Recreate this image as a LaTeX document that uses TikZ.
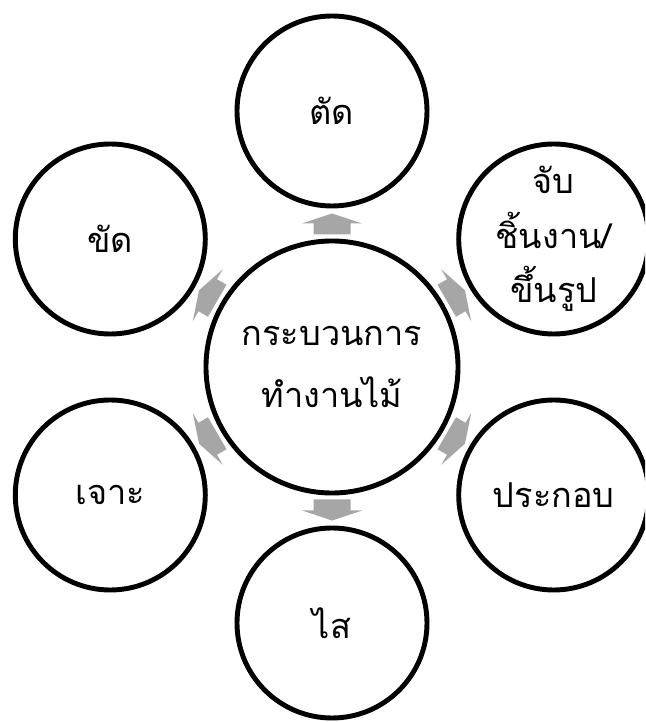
\documentclass[tikz,border=0pt]{standalone}
\usepackage{fontspec}
\newfontfamily\thaifont[Script=Thai]{Loma}

\begin{document}
\begin{tikzpicture}[
        font=\thaifont\fontsize{19.5}{31}\selectfont,
        hub/.style={draw, circle, line width=2.8pt, minimum size=5.04cm,
                   inner sep=0pt, align=center, fill=white,
                   font=\thaifont\fontsize{19.5}{35}\selectfont},
        stage/.style={draw, circle, line width=2.8pt, minimum size=3.8cm,
                     inner sep=0pt, align=center, fill=white},
        flow/.style={fill=black!35}
    ]
        \clip (-6.64,-7.10) rectangle (6.26,7.34);

        \node[hub] (hub) at (0,0) {กระบวนการ\\ทำงานไม้};

        \node[stage] (cut) at (90:5.12) {ตัด};
        \node[stage] (shape) at (30:5.12) {จับ\\ชิ้นงาน/\\ขึ้นรูป};
        \node[stage] (assemble) at (-30:5.12) {ประกอบ};
        \node[stage] (plane) at (-90:5.12) {ไส};
        \node[stage] (drill) at (210:5.12) {เจาะ};
        \node[stage] (sand) at (150:5.12) {ขัด};

        % block arrows from the hub out to each stage
        \foreach \a in {90,30,-30,-90,210,150}
            \fill[flow, shift={(hub.center)}, rotate=\a]
                (2.65,-0.37) -- (2.87,-0.37) -- (2.87,-0.6) -- (3.07,0)
                -- (2.87,0.6) -- (2.87,0.37) -- (2.65,0.37) -- cycle;
    \end{tikzpicture}
\end{document}
